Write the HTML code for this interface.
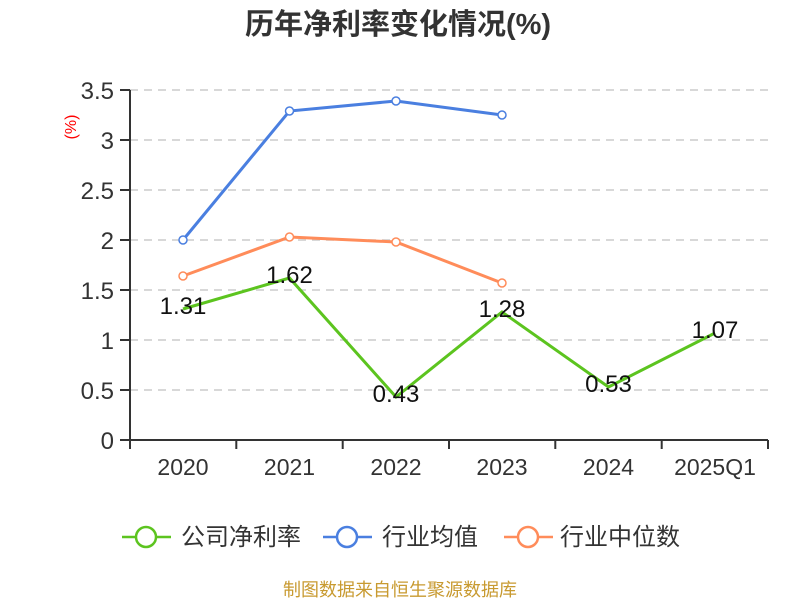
<!DOCTYPE html>
<html><head><meta charset="utf-8"><style>body{margin:0;background:#fff}svg{display:block}</style></head><body>
<svg width="800" height="600" xmlns="http://www.w3.org/2000/svg" font-family="'Liberation Sans','Noto Sans CJK SC',sans-serif">
<text x="398" y="34" text-anchor="middle" font-size="29" font-weight="bold" fill="#333">历年净利率变化情况(%)</text>
<g stroke="#ccc" stroke-width="1.5" stroke-dasharray="8,6">
<line x1="130" x2="768" y1="90" y2="90"/><line x1="130" x2="768" y1="140" y2="140"/><line x1="130" x2="768" y1="190" y2="190"/><line x1="130" x2="768" y1="240" y2="240"/><line x1="130" x2="768" y1="290" y2="290"/><line x1="130" x2="768" y1="340" y2="340"/><line x1="130" x2="768" y1="390" y2="390"/>
</g>
<g stroke="#333" stroke-width="2">
<line x1="130" y1="90" x2="130" y2="441"/><line x1="120" y1="440" x2="768" y2="440"/>
<line x1="120" y1="90" x2="130" y2="90"/><line x1="120" y1="140" x2="130" y2="140"/><line x1="120" y1="190" x2="130" y2="190"/><line x1="120" y1="240" x2="130" y2="240"/><line x1="120" y1="290" x2="130" y2="290"/><line x1="120" y1="340" x2="130" y2="340"/><line x1="120" y1="390" x2="130" y2="390"/>
<line x1="130" y1="440" x2="130" y2="449"/><line x1="236.3" y1="440" x2="236.3" y2="449"/><line x1="342.7" y1="440" x2="342.7" y2="449"/><line x1="449" y1="440" x2="449" y2="449"/><line x1="555.3" y1="440" x2="555.3" y2="449"/><line x1="661.7" y1="440" x2="661.7" y2="449"/><line x1="768" y1="440" x2="768" y2="449"/>
</g>
<g font-size="24" fill="#333" text-anchor="end">
<text x="114" y="99">3.5</text><text x="114" y="149">3</text><text x="114" y="199">2.5</text><text x="114" y="249">2</text><text x="114" y="299">1.5</text><text x="114" y="349">1</text><text x="114" y="399">0.5</text><text x="114" y="449">0</text>
</g>
<text transform="translate(76,127) rotate(-90)" text-anchor="middle" font-size="16" fill="red">(%)</text>
<g font-size="23" fill="#333" text-anchor="middle">
<text x="183" y="475">2020</text><text x="289.5" y="475">2021</text><text x="396" y="475">2022</text><text x="502" y="475">2023</text><text x="608.5" y="475">2024</text><text x="715" y="475">2025Q1</text>
</g>
<g fill="none" stroke-width="3">
<polyline stroke="#4a7fe0" points="183,240 289.5,111 396,101 502,115"/>
<polyline stroke="#ff8c5a" points="183,276 289.5,237 396,242 502,283"/>
<polyline stroke="#5cc41f" points="183,309 289.5,278 396,397 502,312 608.5,387 715,333"/>
</g>
<g fill="#fff" stroke-width="1.5">
<g stroke="#4a7fe0"><circle cx="183" cy="240" r="4"/><circle cx="289.5" cy="111" r="4"/><circle cx="396" cy="101" r="4"/><circle cx="502" cy="115" r="4"/></g>
<g stroke="#ff8c5a"><circle cx="183" cy="276" r="4"/><circle cx="289.5" cy="237" r="4"/><circle cx="396" cy="242" r="4"/><circle cx="502" cy="283" r="4"/></g>
</g>
<g font-size="24" fill="#111" text-anchor="middle">
<text x="183" y="314">1.31</text><text x="289.5" y="283">1.62</text><text x="396" y="402">0.43</text><text x="502" y="317">1.28</text><text x="608.5" y="392">0.53</text><text x="715" y="338">1.07</text>
</g>
<g stroke-width="2.5" fill="#fff">
<line x1="122" y1="537" x2="171" y2="537" stroke="#5cc41f"/><circle cx="146" cy="537" r="10" stroke="#5cc41f"/>
<line x1="323" y1="537" x2="372" y2="537" stroke="#4a7fe0"/><circle cx="347" cy="537" r="10" stroke="#4a7fe0"/>
<line x1="504" y1="537" x2="553" y2="537" stroke="#ff8c5a"/><circle cx="528" cy="537" r="10" stroke="#ff8c5a"/>
</g>
<g font-size="24" fill="#333">
<text x="181" y="545">公司净利率</text><text x="382" y="545">行业均值</text><text x="560" y="545">行业中位数</text>
</g>
<text x="400" y="596" text-anchor="middle" font-size="18" fill="#c89a30">制图数据来自恒生聚源数据库</text>
</svg>
</body></html>
